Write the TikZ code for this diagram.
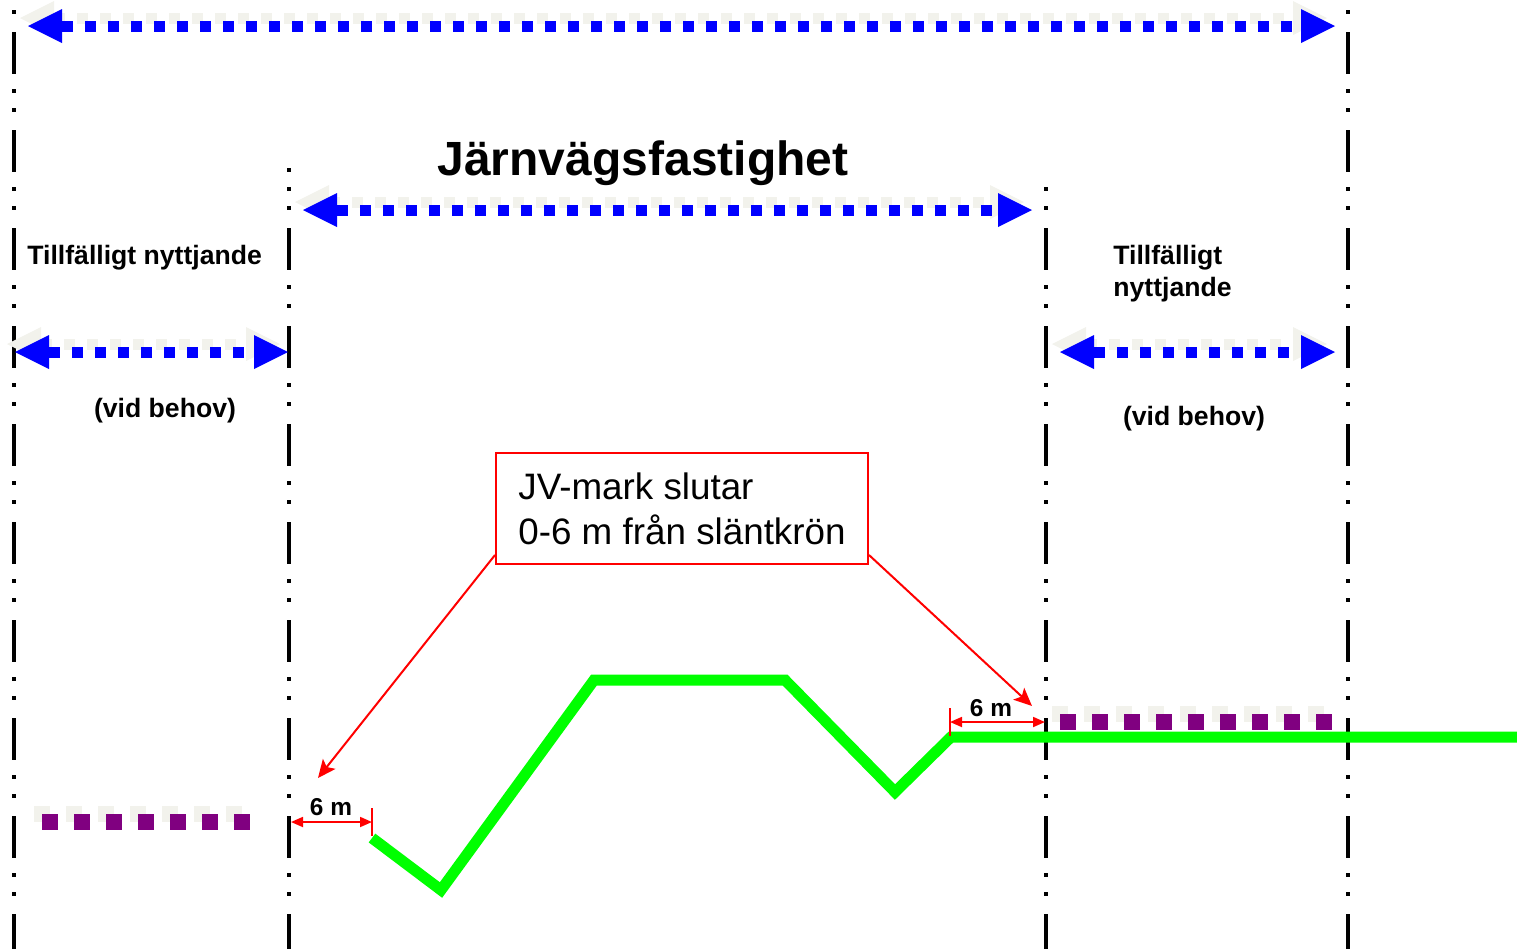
\documentclass[tikz,border=0pt]{standalone}
\usepackage{fontspec}
\setmainfont{Liberation Sans}
\usetikzlibrary{arrows.meta,calc}

\definecolor{railblue}{RGB}{0,0,255}
\definecolor{tempviolet}{RGB}{128,0,128}
\definecolor{palegray}{RGB}{242,242,236}
\definecolor{slopegreen}{RGB}{0,255,0}

\tikzset{
	border/.style={line width=2pt, dash pattern=on 21pt off 7.5pt on 2pt off 7.5pt on 2pt off 9pt},
	span/.style={line width=5.5pt, dash pattern=on 5.5pt off 6pt,
		{Triangle[length=17pt,width=17pt,line width=0pt]}-{Triangle[length=17pt,width=17pt,line width=0pt]}},
	marks/.style={line width=8pt, dash pattern=on 8pt off 8pt},
	dim/.style={red, line width=0.9pt, {Triangle[length=6pt,width=5pt]}-{Triangle[length=6pt,width=5pt]}},
	callout/.style={red, line width=1pt, -{Stealth[length=9pt,width=8pt,inset=2pt]}},
	lbl/.style={font=\bfseries\fontsize{13.3}{16}\selectfont, align=left, inner sep=0pt},
	dimlbl/.style={font=\bfseries\fontsize{12.2}{14}\selectfont, anchor=base, inner sep=0pt},
}

% blue span arrow with its pale shadow: y, x from, x to
\newcommand{\spanarrow}[3]{%
	\draw[span,palegray] (#2-8,#1-8) -- (#3-8,#1-8);
	\draw[span,railblue] (#2,#1) -- (#3,#1);}

\begin{document}
\begin{tikzpicture}[x=0.5pt,y=-0.5pt]
	\useasboundingbox (0,0) rectangle (1517,949);
	\clip (0,0) rectangle (1517,949);

	% property limits
	\draw[border] (14,-66) -- (14,949);
	\draw[border,dash phase=19pt] (289,168) -- (289,949);
	\draw[border,dash phase=28pt] (1046,186) -- (1046,949);
	\draw[border] (1348,-66) -- (1348,949);

	\spanarrow{26}{28}{1335}
	\spanarrow{210}{303}{1032}
	\spanarrow{352}{15}{288}
	\spanarrow{352}{1060}{1335}

	% temporary use
	\draw[marks,palegray] (34,814) -- (242,814);
	\draw[marks,tempviolet] (42,822) -- (250,822);
	\draw[marks,palegray] (1052,714) -- (1324,714);
	\draw[marks,tempviolet] (1060,722) -- (1332,722);

	\node[font=\bfseries\fontsize{24}{28}\selectfont, anchor=base] (fastighet) at (643,175) {Järnvägsfastighet};
	\node[lbl, anchor=base west] (tillf-v) at (27,264) {Tillfälligt nyttjande};
	\node[lbl, anchor=north west] (tillf-h) at (1113,245) {Tillfälligt\\nyttjande};
	\node[lbl, anchor=base] (behov-v) at (165,417) {(vid behov)};
	\node[lbl, anchor=base] (behov-h) at (1194,425) {(vid behov)};

	% embankment
	\draw[slopegreen, line width=5.5pt, miter limit=4]
		(372,838) -- (441,890) -- (594,680) -- (785,680) -- (895,792) -- (951,737) -- (1517,737);

	\node[draw=red, line width=1pt, fill=white, anchor=north west, inner xsep=10pt, inner ysep=0pt,
		minimum width=186pt, minimum height=55.5pt, align=left,
		font=\fontsize{18.4}{22.5}\selectfont] (jvmark) at (495,452) {JV-mark slutar\\0-6 m från släntkrön};

	\coordinate (ltip) at (318,778);
	\coordinate (rtip) at (1032,706);
	\draw[callout] ($(jvmark.south west)+(0,-10)$) -- (ltip);
	\draw[callout] ($(jvmark.south east)+(0,-10)$) -- (rtip);

	% 6 m
	\coordinate (ldim-a) at (291,822);
	\coordinate (ldim-b) at (372,822);
	\coordinate (rdim-a) at (950,722);
	\coordinate (rdim-b) at (1045,722);
	\draw[red, line width=0.9pt] (372,808) -- (372,836);
	\draw[red, line width=0.9pt] (950,708) -- (950,736);
	\draw[dim] (ldim-a) -- (ldim-b);
	\draw[dim] (rdim-a) -- (rdim-b);
	\node[dimlbl] (ldim) at (331,815) {6 m};
	\node[dimlbl] (rdim) at (991,716) {6 m};

\end{tikzpicture}
\end{document}
